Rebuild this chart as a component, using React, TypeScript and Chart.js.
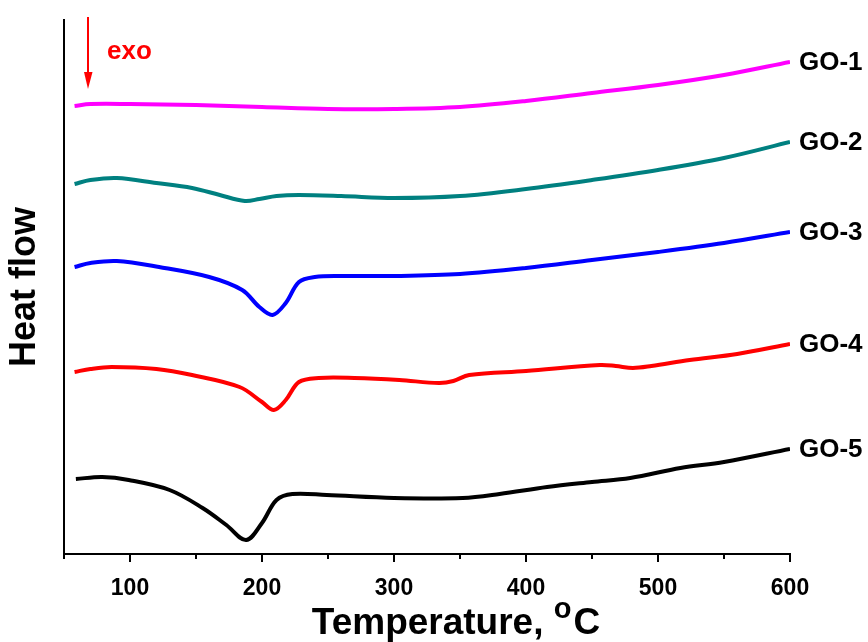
import React, { useEffect, useRef } from "react";
import { Chart, registerables } from "chart.js";

Chart.register(...registerables);

// Temperature (°C) sample points and heat flow (arbitrary units) for each curve
const go1Temp = [58, 70, 100, 150, 200, 250, 300, 350, 400, 450, 500, 550, 600];
const go1Flow = [4.48, 4.5, 4.5, 4.49, 4.47, 4.45, 4.45, 4.47, 4.53, 4.61, 4.69, 4.79, 4.92];

const go2Temp = [58, 70, 90, 120, 147, 168, 187, 198, 211, 228, 260, 300, 350, 400, 450, 500, 550, 600];
const go2Flow = [3.7, 3.74, 3.76, 3.71, 3.66, 3.59, 3.53, 3.55, 3.58, 3.59, 3.58, 3.56, 3.58, 3.65, 3.74, 3.84, 3.96, 4.12];

const go3Temp = [58, 70, 90, 122, 160, 185, 198, 208, 218, 228, 240, 260, 300, 350, 400, 450, 500, 550, 600];
const go3Flow = [2.87, 2.91, 2.93, 2.87, 2.77, 2.64, 2.47, 2.39, 2.51, 2.72, 2.77, 2.78, 2.78, 2.8, 2.86, 2.94, 3.02, 3.11, 3.22];

const go4Temp = [58, 70, 86, 120, 147, 183, 200, 209, 218, 228, 243, 270, 304, 334, 345, 357, 400, 456, 468, 481, 495, 524, 560, 600];
const go4Flow = [1.82, 1.85, 1.87, 1.85, 1.79, 1.67, 1.52, 1.44, 1.54, 1.72, 1.76, 1.76, 1.74, 1.71, 1.73, 1.79, 1.83, 1.89, 1.88, 1.86, 1.88, 1.94, 2.0, 2.1];

const go5Temp = [59, 79, 99, 130, 155, 173, 188, 200, 211, 223, 249, 300, 352, 380, 416, 450, 479, 517, 550, 600];
const go5Flow = [0.75, 0.77, 0.74, 0.64, 0.46, 0.29, 0.14, 0.31, 0.54, 0.6, 0.59, 0.56, 0.56, 0.6, 0.67, 0.72, 0.76, 0.86, 0.92, 1.05];

const seriesNames = ["GO-1", "GO-2", "GO-3", "GO-4", "GO-5"];
const seriesColors = ["#FF00FF", "#008080", "#0000FF", "#FF0000", "#000000"];

const xMin = 50;
const xMax = 600;
const xStep = 50;
const yMin = 0;
const yMax = 5.34;

const FONT = "'Liberation Sans', Arial, sans-serif";

const toPoints = (t: number[], v: number[]) => t.map((x, i) => ({ x, y: v[i] }));

const decorPlugin = {
  id: "decor",
  afterDraw(chart: any) {
    const ctx = chart.ctx as CanvasRenderingContext2D;
    const xs = chart.scales.x;
    const ys = chart.scales.y;
    const area = chart.chartArea;
    ctx.save();
    // tick marks (major at 100s, minor at 50s)
    ctx.strokeStyle = "#000";
    ctx.lineWidth = 2;
    for (let v = xMin; v <= xMax; v += xStep) {
      const px = Math.round(xs.getPixelForValue(v));
      const len = v % 100 === 0 ? 8 : 5;
      ctx.beginPath();
      ctx.moveTo(px, area.bottom);
      ctx.lineTo(px, area.bottom + len);
      ctx.stroke();
    }
    // series labels at the right end
    ctx.fillStyle = "#000";
    ctx.font = `bold 26px ${FONT}`;
    ctx.textAlign = "left";
    ctx.textBaseline = "middle";
    chart.data.datasets.forEach((ds: any) => {
      const last = ds.data[ds.data.length - 1];
      ctx.fillText(ds.label, 799, ys.getPixelForValue(last.y) + 1);
    });
    // x axis title with superscript o
    ctx.textBaseline = "alphabetic";
    const big = `bold 37px ${FONT}`;
    const small = `bold 29px ${FONT}`;
    const main = "Temperature, ";
    ctx.font = big;
    const wMain = ctx.measureText(main).width;
    ctx.font = small;
    const wO = ctx.measureText("o").width;
    ctx.font = big;
    const wC = ctx.measureText("C").width;
    const total = wMain + wO + 2 + wC;
    const x0 = 456 - total / 2;
    ctx.fillText(main, x0, 634);
    ctx.font = small;
    ctx.fillText("o", x0 + wMain, 618);
    ctx.font = big;
    ctx.fillText("C", x0 + wMain + wO + 2, 634);
    // exo arrow
    ctx.strokeStyle = "#FF0000";
    ctx.fillStyle = "#FF0000";
    ctx.lineWidth = 2;
    ctx.beginPath();
    ctx.moveTo(88, 17);
    ctx.lineTo(88, 76);
    ctx.stroke();
    ctx.beginPath();
    ctx.moveTo(84, 72);
    ctx.lineTo(92.5, 72);
    ctx.lineTo(88, 89);
    ctx.closePath();
    ctx.fill();
    ctx.font = `bold 26px ${FONT}`;
    ctx.textAlign = "left";
    ctx.fillText("exo", 107, 59);
    ctx.restore();
  },
};

export default function App() {
  const ref = useRef<HTMLCanvasElement | null>(null);
  useEffect(() => {
    if (!ref.current) return;
    const temps = [go1Temp, go2Temp, go3Temp, go4Temp, go5Temp];
    const flows = [go1Flow, go2Flow, go3Flow, go4Flow, go5Flow];
    const chart = new Chart(ref.current, {
      type: "line",
      data: {
        datasets: seriesNames.map((name, i) => ({
          label: name,
          data: toPoints(temps[i], flows[i]),
          borderColor: seriesColors[i],
          backgroundColor: seriesColors[i],
          borderWidth: 4,
          pointRadius: 0,
          tension: 0.35,
          fill: false,
        })),
      },
      options: {
        animation: false,
        responsive: false,
        maintainAspectRatio: false,
        layout: { padding: { top: 20, right: 78, left: 0, bottom: 0 } },
        plugins: { legend: { display: false }, tooltip: { enabled: false } },
        scales: {
          x: {
            type: "linear",
            min: xMin,
            max: xMax,
            grid: { display: false },
            border: { display: true, color: "#000", width: 2 },
            ticks: {
              stepSize: xStep,
              autoSkip: false,
              maxRotation: 0,
              padding: 13,
              color: "#000",
              font: { family: FONT, size: 23, weight: "bold" },
              callback: (v: any) => (Number(v) % 100 === 0 ? String(v) : ""),
            },
            afterFit: (scale: any) => {
              scale.height = 88;
            },
          },
          y: {
            type: "linear",
            min: yMin,
            max: yMax,
            grid: { display: false },
            border: { display: true, color: "#000", width: 2 },
            ticks: { display: false },
            title: {
              display: true,
              text: "Heat flow",
              color: "#000",
              font: { family: FONT, size: 36, weight: "bold" },
              padding: { top: 3, bottom: 0 },
            },
            afterFit: (scale: any) => {
              scale.width = 64;
            },
          },
        },
      },
      plugins: [decorPlugin],
    });
    return () => chart.destroy();
  }, []);
  return (
    <div style={{ position: "absolute", left: 0, top: 0, width: 868, height: 642, background: "#fff" }}>
      <canvas ref={ref} width={868} height={642} style={{ display: "block" }} />
    </div>
  );
}
